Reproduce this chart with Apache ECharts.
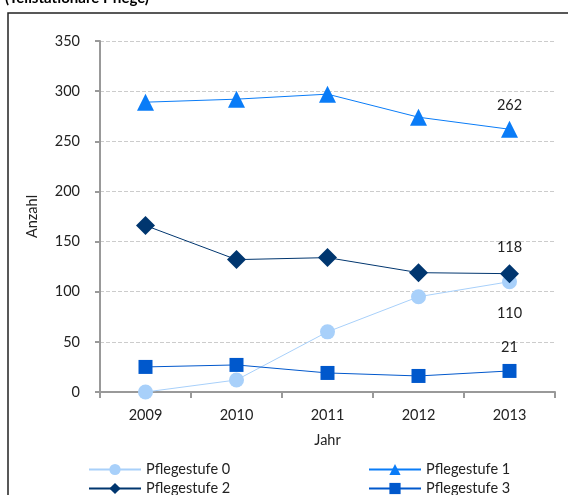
<!DOCTYPE html>
<html><head><meta charset="utf-8">
<script src="https://cdn.jsdelivr.net/npm/echarts@6/dist/echarts.min.js"></script>
<style>html,body{margin:0;padding:0;background:#fff}#c{width:568px;height:495px}</style>
</head><body><div id="c"></div>
<script>
const years = ['2009','2010','2011','2012','2013'];
const stufe0 = [0, 12, 60, 95, 110];
const stufe1 = [289, 292, 297, 274, 262];
const stufe2 = [166, 132, 134, 119, 118];
const stufe3 = [25, 27, 19, 16, 21];
const yTicks = {min: 0, max: 350, interval: 50};

const font = 'Lato, "Open Sans", sans-serif';
function lastLabel(arr, pos, dist) {
  return arr.map((v, i) => i === arr.length - 1
    ? {value: v, label: {show: true, position: pos, distance: dist, color: '#222', fontSize: 14.5, fontFamily: font}}
    : v);
}
function leg(name, left, top) {
  return {left: left, top: top, itemWidth: 52, itemHeight: 14, padding: 0,
    textStyle: {fontSize: 14.5, fontFamily: font, color: '#222'}, data: [name]};
}
const chart = echarts.init(document.getElementById('c'));
chart.setOption({
  animation: false,
  graphic: [
    {type: 'rect', shape: {x: 8, y: 13, width: 570, height: 500}, style: {fill: 'none', stroke: '#222', lineWidth: 1.5}, z: -1},
    {type: 'text', left: 5, top: -9, style: {text: '(Teilstationäre Pflege)', font: 'bold 15px ' + font, fill: '#000'}}
  ],
  grid: {left: 100, right: 13, top: 41, bottom: 103},
  legend: [
    leg('Pflegestufe 0', 88, 462),
    leg('Pflegestufe 2', 88, 481),
    leg('Pflegestufe 1', 368, 462),
    leg('Pflegestufe 3', 368, 481)
  ],
  xAxis: {
    type: 'category', data: years, boundaryGap: true,
    name: 'Jahr', nameLocation: 'middle', nameGap: 41,
    nameTextStyle: {fontSize: 14.5, fontFamily: font, color: '#222'},
    axisLine: {lineStyle: {color: '#999', width: 2}},
    axisTick: {show: true, length: 6, lineStyle: {color: '#999', width: 2}},
    axisLabel: {fontSize: 14.5, fontFamily: font, color: '#222', margin: 16}
  },
  yAxis: {
    type: 'value', min: yTicks.min, max: yTicks.max, interval: yTicks.interval,
    name: 'Anzahl', nameLocation: 'middle', nameGap: 60,
    nameTextStyle: {fontSize: 14.5, fontFamily: font, color: '#222'},
    axisLine: {show: true, lineStyle: {color: '#999', width: 2}},
    axisTick: {show: true, length: 5, lineStyle: {color: '#999', width: 2}},
    axisLabel: {fontSize: 14.5, fontFamily: font, color: '#222', margin: 20},
    splitLine: {lineStyle: {color: '#ccc', type: 'dashed', width: 1}}
  },
  series: [
    {name: 'Pflegestufe 0', type: 'line', data: lastLabel(stufe0, 'bottom', 17),
     symbol: 'circle', symbolSize: 15, color: '#a8d0fa', lineStyle: {width: 1, color: '#a8d0fa'}, z: 2},
    {name: 'Pflegestufe 1', type: 'line', data: lastLabel(stufe1, 'top', 8),
     symbol: 'triangle', symbolSize: 17, color: '#0a7cf7', lineStyle: {width: 1, color: '#0a7cf7'}, z: 3},
    {name: 'Pflegestufe 2', type: 'line', data: lastLabel(stufe2, 'top', 9),
     symbol: 'diamond', symbolSize: [19, 19], color: '#00366f', lineStyle: {width: 1, color: '#00366f'}, z: 4},
    {name: 'Pflegestufe 3', type: 'line', data: lastLabel(stufe3, 'top', 9),
     symbol: 'rect', symbolSize: 14, color: '#0058cc', lineStyle: {width: 1, color: '#0058cc'}, z: 3}
  ]
});
</script></body></html>
